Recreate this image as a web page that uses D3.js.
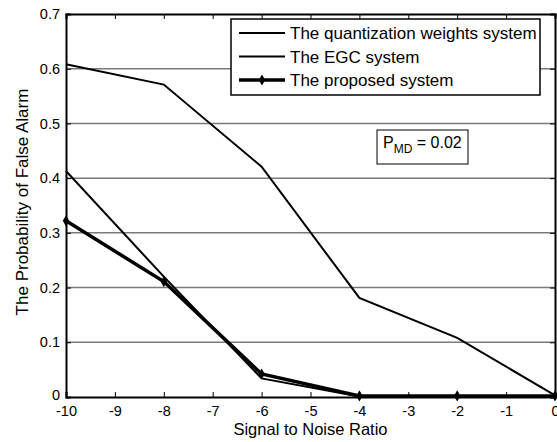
<!DOCTYPE html>
<html>
<head>
<meta charset="utf-8">
<script src="https://cdn.jsdelivr.net/npm/d3@7"></script>
<style>
  body { margin: 0; background: #fff; }
  svg { font-family: "Liberation Sans", Arial, sans-serif; }
</style>
</head>
<body>
<div id="container"></div>
<script>
// SNR values on the x axis
const snr = [-10, -8, -6, -4, -2, 0];
// Series
const quantWeights = [0.608, 0.571, 0.421, 0.181, 0.108, 0.003];
const egc = [0.413, 0.22, 0.034, 0.001, 0.001, 0.001];
const proposed = [0.322, 0.211, 0.042, 0.002, 0.002, 0.002];
const seriesNames = ['The quantization weights system', 'The EGC system', 'The proposed system'];
const xTicks = [-10, -9, -8, -7, -6, -5, -4, -3, -2, -1, 0];
const yTicks = [0, 0.1, 0.2, 0.3, 0.4, 0.5, 0.6, 0.7];

const W = 557, H = 442;
const margin = {left: 66, right: 2, top: 14, bottom: 45};
const width = W - margin.left - margin.right;
const height = H - margin.top - margin.bottom;

const svg = d3.select('#container').append('svg')
  .attr('width', W).attr('height', H);
const chart = svg.append('g')
  .attr('transform', `translate(${margin.left}, ${margin.top})`);

const x = d3.scaleLinear().domain([-10, 0]).range([0, width]);
const y = d3.scaleLinear().domain([0, 0.7]).range([height, 0]);

// horizontal grid lines
chart.append('g')
  .selectAll('line')
  .data(yTicks.slice(1, -1))
  .enter().append('line')
  .attr('x1', 0).attr('x2', width)
  .attr('y1', d => y(d)).attr('y2', d => y(d))
  .attr('stroke', '#7a7a7a').attr('stroke-width', 1.5);

// axes, ticks pointing inwards
const axBottom = chart.append('g')
  .attr('transform', `translate(0, ${height})`)
  .call(d3.axisBottom(x).tickValues(xTicks).tickSize(-5).tickPadding(9).tickFormat(d => String(d)));
const axTop = chart.append('g')
  .call(d3.axisTop(x).tickValues(xTicks).tickSize(-5).tickFormat(''));
const axLeft = chart.append('g')
  .call(d3.axisLeft(y).tickValues(yTicks).tickSize(-5).tickPadding(6).tickFormat(d => d === 0 ? '0' : d3.format('.1f')(d)));
const axRight = chart.append('g')
  .attr('transform', `translate(${width}, 0)`)
  .call(d3.axisRight(y).tickValues(yTicks).tickSize(-5).tickFormat(''));

[axBottom, axTop, axLeft, axRight].forEach(g => {
  g.select('.domain').attr('stroke', '#000').attr('stroke-width', 2);
  g.selectAll('.tick line').attr('stroke', '#000').attr('stroke-width', 1);
  g.selectAll('.tick text').attr('fill', '#000').style('font-size', '14.5px')
    .style('font-family', '"Liberation Sans", Arial, sans-serif');
});
// the "0" label sits a little above the corner
axLeft.selectAll('.tick text').filter(d => d === 0).attr('dy', '0.2em');

const line = d3.line()
  .x((d, i) => x(snr[i]))
  .y(d => y(d));

// series lines
chart.append('path').datum(quantWeights)
  .attr('d', line).attr('fill', 'none').attr('stroke', '#000').attr('stroke-width', 2);
chart.append('path').datum(egc)
  .attr('d', line).attr('fill', 'none').attr('stroke', '#000').attr('stroke-width', 2);
chart.append('path').datum(proposed)
  .attr('d', line).attr('fill', 'none').attr('stroke', '#000').attr('stroke-width', 3.5);

// markers of the proposed system
const marker = d3.symbol().type(d3.symbolDiamond).size(36);
chart.append('g').selectAll('path')
  .data(proposed)
  .enter().append('path')
  .attr('d', marker)
  .attr('transform', (d, i) => `translate(${x(snr[i])}, ${y(d)})`)
  .attr('fill', '#000');

// legend
const legend = svg.append('g').attr('transform', 'translate(231, 19)');
legend.append('rect')
  .attr('width', 309).attr('height', 76)
  .attr('fill', '#fff').attr('stroke', '#000').attr('stroke-width', 1.5);
seriesNames.forEach((name, i) => {
  const ly = 14 + i * 23.5;
  legend.append('line')
    .attr('x1', 8).attr('x2', 54).attr('y1', ly).attr('y2', ly)
    .attr('stroke', '#000').attr('stroke-width', i === 2 ? 3.5 : 2);
  if (i === 2) {
    legend.append('path').attr('d', marker)
      .attr('transform', `translate(31, ${ly})`).attr('fill', '#000');
  }
  legend.append('text')
    .attr('x', 59).attr('y', ly + 6)
    .style('font-size', '17px')
    .text(name);
});

// P_MD annotation
const note = svg.append('g').attr('transform', 'translate(377, 130)');
note.append('rect')
  .attr('width', 91).attr('height', 34)
  .attr('fill', '#fff').attr('stroke', '#000').attr('stroke-width', 1);
const nt = note.append('text').attr('x', 6).attr('y', 18).style('font-size', '16px');
nt.append('tspan').text('P');
nt.append('tspan').attr('dy', 5).style('font-size', '12px').text('MD');
nt.append('tspan').attr('dy', -5).text(' = 0.02');

// axis titles
svg.append('text')
  .attr('transform', 'translate(28, 202) rotate(-90)')
  .attr('text-anchor', 'middle')
  .style('font-size', '17px')
  .text('The Probability of False Alarm');
svg.append('text')
  .attr('x', margin.left + width / 2)
  .attr('y', 435)
  .attr('text-anchor', 'middle')
  .style('font-size', '16.5px')
  .text('Signal to Noise Ratio');
</script>
</body>
</html>
